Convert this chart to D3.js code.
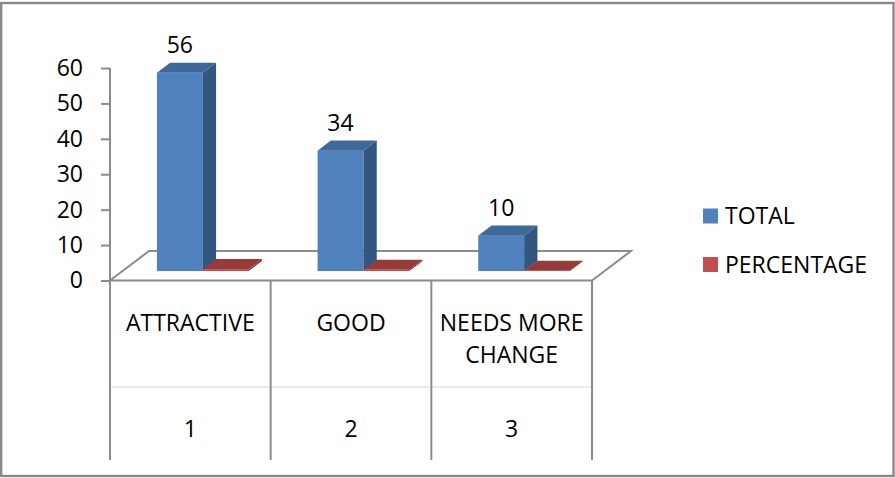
<!DOCTYPE html>
<html>
<head>
<meta charset="utf-8">
<script src="https://cdn.jsdelivr.net/npm/d3@7/dist/d3.min.js"></script>
<style>
  html, body { margin: 0; padding: 0; background: #fff; }
  svg { display: block; }
  text { font-family: "Open Sans", sans-serif; fill: #000; }
</style>
</head>
<body>
<script>
// ---- data ----
const categories = ["ATTRACTIVE", "GOOD", "NEEDS MORE CHANGE"];
const categoryNumbers = ["1", "2", "3"];
const seriesNames = ["TOTAL", "PERCENTAGE"];
const totalValues = [56, 34, 10];
const percentageValues = [0.56, 0.34, 0.10];
const yTicks = [0, 10, 20, 30, 40, 50, 60];

const W = 895, H = 478;
const colors = {
  TOTAL: { front: "#4F81BD", side: "#34557F", top: "#3E6898" },
  PERCENTAGE: { front: "#C0504D", side: "#8A3936", top: "#953C3A" }
};

const svg = d3.select("body").append("svg").attr("width", W).attr("height", H);

// outer border
svg.append("rect").attr("x", 1.2).attr("y", 3).attr("width", 892.3).attr("height", 473)
  .attr("fill", "#fff").attr("stroke", "#8a8a8a").attr("stroke-width", 2.4);

// scales (front plane)
const x = d3.scaleBand().domain(categories).range([110, 592]);
const xs = d3.scaleBand().domain(seriesNames).range([0, x.bandwidth()]).paddingOuter(0.75).paddingInner(0);
const y = d3.scaleLinear().domain([0, 60]).range([280.5, 68]);

// oblique depth vector of the floor
const depth = { dx: 39, dy: -29.5 };
const fFront = 0.32, fBack = 0.66;
const P = (px, py, f) => [px + depth.dx * f, py + depth.dy * f];

// floor
const x0 = x.range()[0], x1 = x.range()[1], yb = y(0);
const floorPts = [[x0, yb], [x1, yb], P(x1, yb, 1), P(x0, yb, 1)];
svg.append("polygon").attr("points", floorPts.map(p => p.join(",")).join(" "))
  .attr("fill", "#fff").attr("stroke", "#8c8c8c").attr("stroke-width", 2).attr("stroke-linejoin", "miter");

// y axis
const axisG = svg.append("g").attr("transform", `translate(${x0},0)`);
axisG.call(d3.axisLeft(y).tickValues(yTicks).tickSize(9).tickPadding(18).tickFormat(d3.format("d")));
axisG.select(".domain").attr("stroke", "#8c8c8c").attr("stroke-width", 2).attr("d", `M0,${y(60)}V${y(0)}`);
axisG.selectAll(".tick line").attr("stroke", "#8c8c8c").attr("stroke-width", 2);
axisG.selectAll(".tick text").attr("font-family", "Open Sans, sans-serif").attr("font-size", 23).attr("fill", "#000");

// bars
const barsG = svg.append("g");
const dataRows = categories.map((c, i) => ({ cat: c, TOTAL: totalValues[i], PERCENTAGE: percentageValues[i] }));
const bw = xs.bandwidth();
const ddx = depth.dx * (fBack - fFront), ddy = depth.dy * (fBack - fFront);

dataRows.forEach(row => {
  seriesNames.forEach(s => {
    const v = row[s];
    const [fx, fy0] = P(x(row.cat) + xs(s), y(0), fFront);
    const h = y(0) - y(v);
    const fyT = fy0 - h;
    const col = colors[s];
    // front face
    barsG.append("rect").attr("x", fx).attr("y", fyT).attr("width", bw).attr("height", h).attr("fill", col.front);
    // side face
    barsG.append("polygon").attr("points", [[fx + bw, fy0], [fx + bw, fyT], [fx + bw + ddx, fyT + ddy], [fx + bw + ddx, fy0 + ddy]].map(p => p.join(",")).join(" "))
      .attr("fill", col.side);
    // top face
    barsG.append("polygon").attr("points", [[fx, fyT], [fx + bw, fyT], [fx + bw + ddx, fyT + ddy], [fx + ddx, fyT + ddy]].map(p => p.join(",")).join(" "))
      .attr("fill", col.top);
    if (s === "TOTAL") {
      barsG.append("text").attr("x", fx + bw / 2).attr("y", fyT - 20).attr("text-anchor", "middle")
        .attr("font-size", 23).text(v);
    }
  });
});

// category table
const tableBottom = 460, rowSplit = 387;
svg.append("line").attr("x1", x0).attr("x2", x1).attr("y1", rowSplit).attr("y2", rowSplit)
  .attr("stroke", "#e3e3e3").attr("stroke-width", 1.5);
const bounds = categories.map(c => x(c)).concat([x1]);
svg.selectAll("line.vdiv").data(bounds).join("line").attr("class", "vdiv")
  .attr("x1", d => d).attr("x2", d => d).attr("y1", yb).attr("y2", tableBottom)
  .attr("stroke", "#8c8c8c").attr("stroke-width", 2);

const labelWrap = { "ATTRACTIVE": ["ATTRACTIVE"], "GOOD": ["GOOD"], "NEEDS MORE CHANGE": ["NEEDS MORE", "CHANGE"] };
categories.forEach((c, i) => {
  const cx = x(c) + x.bandwidth() / 2;
  labelWrap[c].forEach((ln, j) => {
    svg.append("text").attr("x", cx).attr("y", 331 + j * 32).attr("text-anchor", "middle").attr("font-size", 23).text(ln);
  });
  svg.append("text").attr("x", cx).attr("y", 437).attr("text-anchor", "middle").attr("font-size", 23).text(categoryNumbers[i]);
});

// legend
const legend = svg.append("g");
seriesNames.forEach((s, i) => {
  const ly = 216 + i * 48.5;
  legend.append("rect").attr("x", 703).attr("y", ly - 7.5).attr("width", 15).attr("height", 15).attr("fill", colors[s].front);
  legend.append("text").attr("x", 725).attr("y", ly + 8).attr("font-size", 23).text(s);
});
</script>
</body>
</html>
